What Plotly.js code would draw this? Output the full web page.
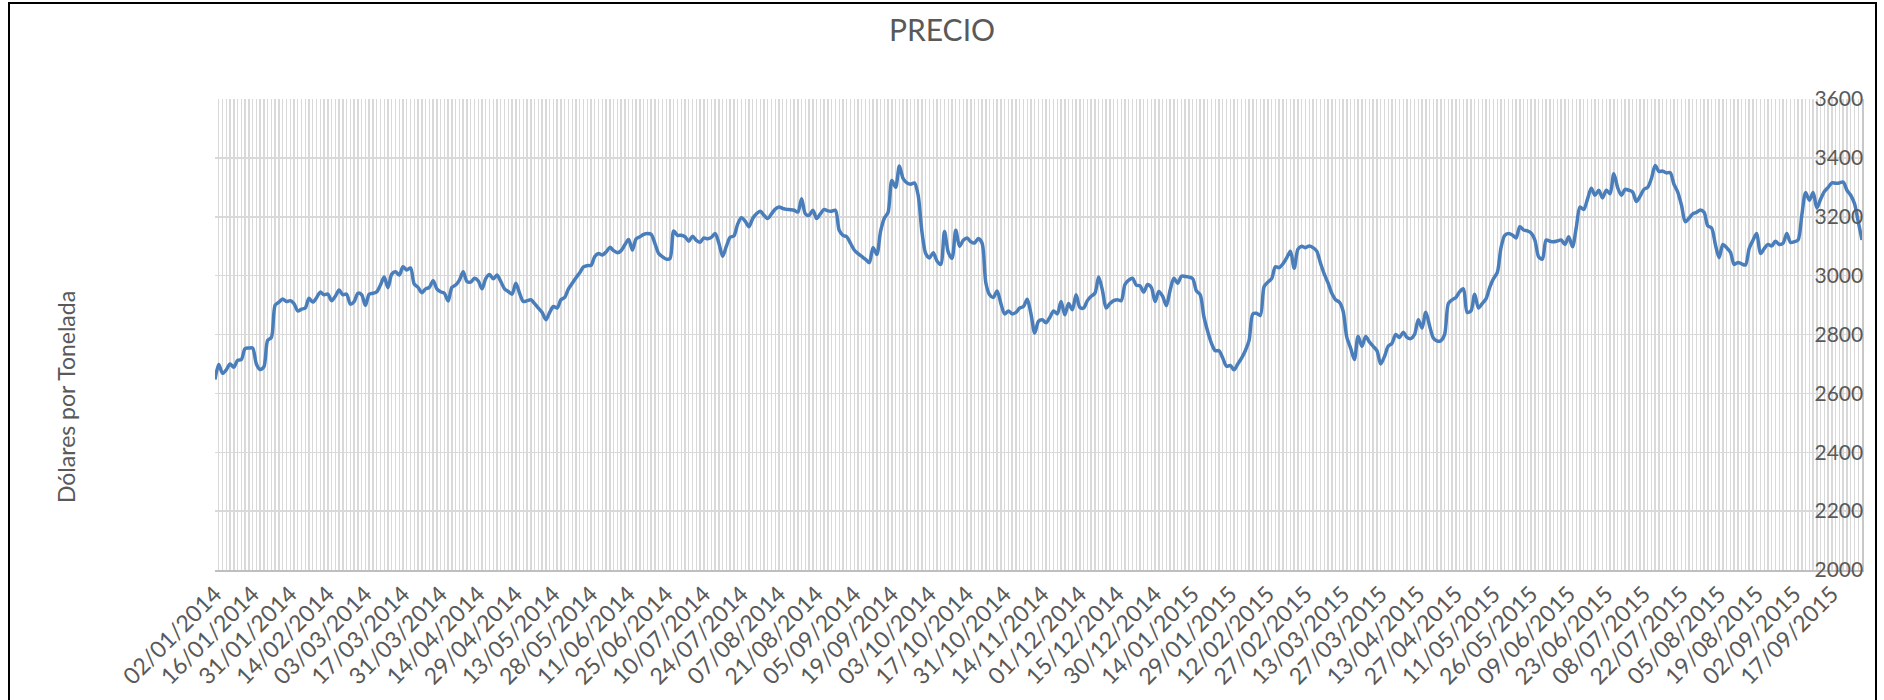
<!DOCTYPE html>
<html>
<head>
<meta charset="utf-8">
<script src="https://cdn.plot.ly/plotly-3.0.1.min.js"></script>
<style>
  html, body { margin: 0; padding: 0; background: #ffffff; }
  #chart { width: 1884px; height: 700px; }
</style>
</head>
<body>
<div id="chart"></div>
<script>
// ---- DATA ----
const chartTitle = 'PRECIO';
const yTitle = 'Dólares por Tonelada';

// Trading calendar (business days, exchange holidays excluded)
const firstDay = '2014-01-02';
const lastDay = '2015-09-29';
const holidays = [
  '2014-01-20','2014-02-17','2014-04-18','2014-05-26','2014-07-04','2014-09-01',
  '2014-11-27','2014-12-25','2015-01-01','2015-01-19','2015-02-16','2015-04-03',
  '2015-05-25','2015-07-03','2015-09-07'
];

// Labelled ticks on the category axis
const tickLabels = [
  '02/01/2014','16/01/2014','31/01/2014','14/02/2014','03/03/2014','17/03/2014',
  '31/03/2014','14/04/2014','29/04/2014','13/05/2014','28/05/2014','11/06/2014',
  '25/06/2014','10/07/2014','24/07/2014','07/08/2014','21/08/2014','05/09/2014',
  '19/09/2014','03/10/2014','17/10/2014','31/10/2014','14/11/2014','01/12/2014',
  '15/12/2014','30/12/2014','14/01/2015','29/01/2015','12/02/2015','27/02/2015',
  '13/03/2015','27/03/2015','13/04/2015','27/04/2015','11/05/2015','26/05/2015',
  '09/06/2015','23/06/2015','08/07/2015','22/07/2015','05/08/2015','19/08/2015',
  '02/09/2015','17/09/2015'
];

// Price (USD per tonne), one value per trading day
const precio = [
  2647,2698,2668,2680,2700,2689,2712,2715,2752,2754,
  2754,2700,2681,2690,2780,2790,2900,2910,2921,2912,
  2915,2905,2880,2886,2890,2923,2910,2925,2944,2935,
  2937,2915,2930,2951,2935,2937,2903,2912,2940,2935,
  2899,2937,2940,2945,2968,2995,2959,3005,3013,3002,
  3030,3019,3026,2971,2960,2942,2955,2960,2983,2955,
  2945,2940,2914,2960,2968,2985,3013,2980,2978,2991,
  2982,2955,2990,3004,2989,3002,2980,2955,2946,2937,
  2974,2940,2912,2915,2918,2905,2890,2875,2850,2875,
  2895,2890,2918,2926,2955,2974,2993,3010,3030,3034,
  3035,3065,3075,3070,3080,3096,3085,3078,3085,3105,
  3123,3087,3125,3132,3140,3143,3140,3109,3075,3064,
  3056,3058,3152,3137,3137,3132,3117,3134,3120,3113,
  3128,3125,3130,3143,3110,3066,3100,3130,3135,3175,
  3197,3185,3166,3194,3210,3219,3205,3194,3210,3226,
  3233,3228,3225,3224,3222,3216,3261,3210,3205,3222,
  3194,3210,3225,3220,3219,3222,3154,3137,3132,3110,
  3087,3075,3065,3055,3044,3095,3072,3150,3195,3215,
  3323,3300,3372,3330,3315,3310,3315,3273,3149,3075,
  3060,3078,3050,3038,3150,3080,3059,3154,3100,3120,
  3128,3115,3111,3126,3110,2975,2935,2926,2948,2905,
  2870,2880,2870,2875,2890,2895,2920,2870,2805,2845,
  2850,2840,2858,2880,2870,2912,2867,2905,2884,2935,
  2892,2890,2915,2930,2940,2995,2950,2890,2905,2915,
  2918,2915,2970,2985,2991,2968,2965,2944,2970,2960,
  2912,2946,2930,2898,2950,2991,2974,2998,2997,2995,
  2990,2948,2935,2860,2810,2770,2745,2745,2720,2692,
  2695,2680,2700,2720,2745,2780,2870,2872,2865,2963,
  2978,2990,3030,3027,3040,3060,3083,3025,3090,3100,
  3095,3101,3095,3083,3042,3005,2975,2940,2918,2910,
  2880,2790,2754,2715,2794,2760,2793,2775,2760,2745,
  2700,2725,2760,2770,2800,2790,2808,2790,2786,2800,
  2850,2822,2876,2830,2788,2778,2779,2800,2905,2918,
  2926,2945,2955,2875,2880,2937,2890,2905,2921,2960,
  2990,3010,3095,3137,3143,3138,3128,3166,3155,3152,
  3145,3121,3064,3056,3121,3117,3115,3118,3121,3106,
  3132,3098,3162,3233,3225,3260,3297,3273,3290,3264,
  3290,3278,3346,3300,3273,3293,3290,3284,3252,3270,
  3293,3300,3330,3374,3354,3355,3349,3350,3310,3284,
  3239,3183,3195,3210,3215,3223,3215,3169,3162,3106,
  3061,3106,3095,3080,3038,3045,3040,3036,3092,3120,
  3143,3075,3092,3106,3101,3117,3106,3110,3143,3113,
  3115,3121,3206,3282,3256,3282,3230,3260,3286,3300,
  3315,3314,3315,3318,3290,3273,3245,3183,3121
];

// ---- build category list from the calendar ----
function tradingDays(start, end, hol) {
  const out = [];
  const d = new Date(start + 'T00:00:00Z');
  const e = new Date(end + 'T00:00:00Z');
  const pad = n => (n < 10 ? '0' : '') + n;
  while (d <= e) {
    const iso = d.getUTCFullYear() + '-' + pad(d.getUTCMonth() + 1) + '-' + pad(d.getUTCDate());
    const wd = d.getUTCDay();
    if (wd !== 0 && wd !== 6 && hol.indexOf(iso) < 0) {
      out.push(pad(d.getUTCDate()) + '/' + pad(d.getUTCMonth() + 1) + '/' + d.getUTCFullYear());
    }
    d.setUTCDate(d.getUTCDate() + 1);
  }
  return out;
}
const fechas = tradingDays(firstDay, lastDay, holidays).slice(0, precio.length);
// category positions (index of each trading day on the category axis)
const pos = fechas.map((f, i) => i);
const tickPos = tickLabels.map(t => fechas.indexOf(t));

// ---- layout geometry ----
const W = 1884, H = 700;
const M = { l: 215, r: 22, t: 99, b: 130 };
const pw = W - M.l - M.r, ph = H - M.t - M.b;
const px = x => (x - M.l) / pw;
const py = y => (H - M.b - y) / ph;

const FONT = 'Lato, Carlito, "Liberation Sans", sans-serif';
const GREY = '#595959';
const GRID = '#d9d9d9';

const trace = {
  type: 'scatter',
  mode: 'lines',
  x: pos,
  y: precio,
  text: fechas,
  line: { color: '#4a7ebb', width: 3.5, shape: 'spline', smoothing: 0.8 },
  hoverinfo: 'text+y'
};

const layout = {
  width: W, height: H,
  margin: M,
  paper_bgcolor: '#ffffff',
  plot_bgcolor: '#ffffff',
  showlegend: false,
  font: { family: FONT, color: GREY },
  title: {
    text: chartTitle,
    x: 0.5, xref: 'container', xanchor: 'center',
    y: 1 - 30 / H, yref: 'container', yanchor: 'middle',
    font: { family: FONT, size: 30, color: GREY }
  },
  xaxis: {
    type: 'linear',
    range: [0, fechas.length - 1],
    tickmode: 'array',
    tickvals: tickPos,
    ticktext: tickLabels,
    tickangle: -45,
    ticks: '',
    tickfont: { family: FONT, size: 23, color: GREY },
    showgrid: true,
    gridcolor: GRID,
    gridwidth: 1.4,
    minor: {
      tickmode: 'linear', tick0: 0, dtick: 1,
      showgrid: true, gridcolor: GRID, gridwidth: 1.4, ticks: ''
    },
    showline: true,
    linecolor: '#bfbfbf',
    linewidth: 1.5,
    zeroline: false,
    fixedrange: true
  },
  yaxis: {
    range: [2000, 3600],
    tickmode: 'linear',
    tick0: 2000,
    dtick: 200,
    side: 'right',
    ticklabelposition: 'inside',
    ticklabeloverflow: 'allow',
    ticks: '',
    tickfont: { family: FONT, size: 21, color: GREY },
    showgrid: true,
    gridcolor: GRID,
    gridwidth: 1.5,
    showline: true,
    linecolor: '#c8c8c8',
    linewidth: 1.5,
    zeroline: false,
    fixedrange: true
  },
  annotations: [{
    text: yTitle,
    xref: 'paper', yref: 'paper',
    x: px(66), y: py(397),
    xanchor: 'center', yanchor: 'middle',
    textangle: -90,
    showarrow: false,
    font: { family: FONT, size: 23, color: GREY }
  }],
  shapes: [{
    type: 'rect',
    xref: 'paper', yref: 'paper',
    x0: px(9), x1: px(1876),
    y0: py(720), y1: py(3),
    line: { color: '#000000', width: 2 },
    fillcolor: 'rgba(0,0,0,0)',
    layer: 'above'
  }]
};

Plotly.newPlot('chart', [trace], layout, { staticPlot: true, displayModeBar: false });
</script>
</body>
</html>
